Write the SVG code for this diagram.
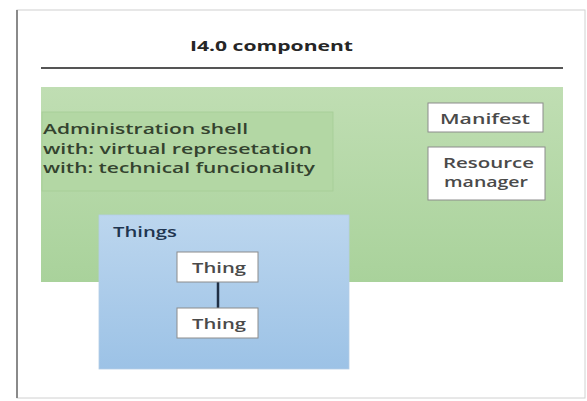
<svg xmlns="http://www.w3.org/2000/svg" width="587" height="401" viewBox="0 0 587 401">
  <defs>
    <linearGradient id="gGreen" x1="0" y1="0" x2="0" y2="1">
      <stop offset="0" stop-color="#c0deb3"/>
      <stop offset="1" stop-color="#a9d29b"/>
    </linearGradient>
    <linearGradient id="gBlue" x1="0" y1="0" x2="0" y2="1">
      <stop offset="0" stop-color="#bcd6ee"/>
      <stop offset="1" stop-color="#9cc2e6"/>
    </linearGradient>
    <style>
      .txt { font-family: "Open Sans", "Liberation Sans", sans-serif; font-size: 15px; font-weight: 600; fill: #4a4a4a; }
      .title { font-family: "Open Sans", "Liberation Sans", sans-serif; font-weight: bold; font-size: 15px; fill: #262626; }
      .box { fill: #ffffff; stroke: #8c8c8c; stroke-width: 1; }
      .shell { font-family: "Open Sans", "Liberation Sans", sans-serif; font-size: 15px; font-weight: 600; fill: #34432f; }
    </style>
  </defs>
  <rect width="587" height="401" fill="#ffffff"/>
  <g id="frame">
    <rect x="17" y="10" width="568" height="388" fill="#ffffff" stroke="#d0d0d0" stroke-width="1"/>
    <line x1="17" y1="10" x2="17" y2="398" stroke="#8a8a8a" stroke-width="2"/>
  </g>
  <g id="title">
    <text class="title" x="190" y="51" textLength="163" lengthAdjust="spacingAndGlyphs">I4.0 component</text>
    <line x1="41" y1="68" x2="563" y2="68" stroke="#555555" stroke-width="2"/>
  </g>
  <g id="admin-area">
    <rect x="41" y="87" width="522" height="195" fill="url(#gGreen)"/>
  </g>
  <g id="admin-shell">
    <rect x="42" y="112" width="291" height="79" fill="#b3d7a4" stroke="#a5cc96" stroke-width="0.8"/>
    <text class="shell" x="43" y="134" textLength="205" lengthAdjust="spacingAndGlyphs">Administration shell</text>
    <text class="shell" x="43" y="154" textLength="269" lengthAdjust="spacingAndGlyphs">with: virtual represetation</text>
    <text class="shell" x="43" y="173" textLength="272" lengthAdjust="spacingAndGlyphs">with: technical funcionality</text>
  </g>
  <g id="manifest">
    <rect class="box" x="428" y="103" width="115" height="29"/>
    <text class="txt" x="440" y="124" textLength="90" lengthAdjust="spacingAndGlyphs">Manifest</text>
  </g>
  <g id="resource-manager">
    <rect class="box" x="428" y="147" width="117" height="53"/>
    <text class="txt" x="443" y="168" textLength="91" lengthAdjust="spacingAndGlyphs">Resource</text>
    <text class="txt" x="444" y="187" textLength="84" lengthAdjust="spacingAndGlyphs">manager</text>
  </g>
  <g id="things">
    <rect x="99" y="215" width="250" height="154" fill="url(#gBlue)" stroke="#b3cde6" stroke-width="0.8"/>
    <text class="txt" x="113" y="237" textLength="64" lengthAdjust="spacingAndGlyphs" style="fill:#1f3550">Things</text>
  </g>
  <g id="connectors">
    <line x1="218" y1="282" x2="218" y2="308" stroke="#1f2f45" stroke-width="2.5"/>
  </g>
  <g id="thing1">
    <rect class="box" x="177" y="252" width="81" height="30"/>
    <text class="txt" x="192" y="273" textLength="54" lengthAdjust="spacingAndGlyphs">Thing</text>
  </g>
  <g id="thing2">
    <rect class="box" x="177" y="308" width="81" height="30"/>
    <text class="txt" x="192" y="329" textLength="54" lengthAdjust="spacingAndGlyphs">Thing</text>
  </g>
</svg>
